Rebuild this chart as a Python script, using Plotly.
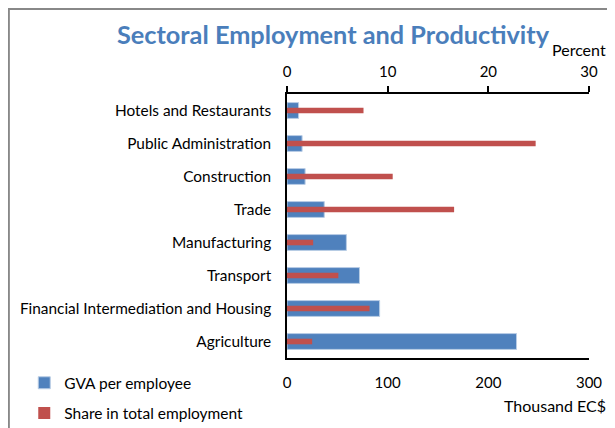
import plotly.graph_objects as go

# sectors, listed top to bottom as in the chart
sectors = ['Hotels and Restaurants', 'Public Administration', 'Construction', 'Trade',
           'Manufacturing', 'Transport', 'Financial Intermediation and Housing', 'Agriculture']
# GVA per employee, thousand EC$ (bottom axis)
gva_per_employee = [11.5, 15, 18, 37, 59, 72, 92, 228]
# share in total employment, percent (top axis)
employment_share = [7.6, 24.7, 10.5, 16.6, 2.6, 5.1, 8.2, 2.5]

blue = '#4F81BD'
red = '#C0504D'
font_family = 'Lato'

# the page body adds an 8px margin, so the figure is 8px smaller each way
W, H = 607, 420

fig = go.Figure()
fig.add_trace(go.Bar(
    y=sectors, x=gva_per_employee, orientation='h', name='GVA per employee',
    marker=dict(color=blue, line=dict(color='#B9CDE5', width=1)),
    width=0.48, xaxis='x', yaxis='y', legendgroup='a'))
fig.add_trace(go.Bar(
    y=sectors, x=employment_share, orientation='h', name='Share in total employment',
    marker=dict(color=red, line=dict(width=0)),
    width=0.17, xaxis='x2', yaxis='y', legendgroup='b'))

fig.update_layout(
    width=W, height=H,
    margin=dict(l=279, r=26, t=86, b=70, autoexpand=False),
    paper_bgcolor='white', plot_bgcolor='white',
    font=dict(family=font_family, size=15, color='black'),
    barmode='overlay',
    title=dict(text='<b>Sectoral Employment and Productivity</b>',
               font=dict(family=font_family, size=25.3, color='#4A7EBB'),
               xref='container', x=325 / W, xanchor='center',
               yref='container', y=1 - 27 / H, yanchor='middle'),
    xaxis=dict(range=[0, 300], dtick=100, showline=True, linecolor='black', linewidth=1.5,
               showgrid=False, zeroline=False, ticks='', ticklabelstandoff=10,
               tickfont=dict(size=15)),
    xaxis2=dict(range=[0, 30], dtick=10, overlaying='x', side='top', showline=True,
                linecolor='black', linewidth=1.5, showgrid=False, zeroline=False,
                ticks='outside', ticklen=6, tickcolor='black', tickwidth=1.5,
                ticklabelstandoff=3, tickfont=dict(size=15)),
    yaxis=dict(autorange='reversed', showline=True, linecolor='black', linewidth=1.5,
               showgrid=False, ticks='', ticklabelstandoff=11, tickfont=dict(size=15.4)),
    legend=dict(x=-0.87, y=-0.031, xanchor='left', yanchor='top', traceorder='grouped',
                tracegroupgap=7, font=dict(size=15.5), bgcolor='rgba(0,0,0,0)'),
    showlegend=True,
)

fig.add_annotation(text='Percent', xref='paper', yref='paper', x=1.063, y=1.17,
                   xanchor='right', yanchor='middle', showarrow=False, font=dict(size=16))
fig.add_annotation(text='Thousand EC$', xref='paper', yref='paper', x=1.063, y=-0.18,
                   xanchor='right', yanchor='middle', showarrow=False, font=dict(size=16))

# outer chart frame (cropped on the right and bottom in the original)
fig.add_shape(type='rect', xref='paper', yref='paper', x0=-0.921, x1=1.3, y0=-0.5, y1=1.322,
              line=dict(color='#888888', width=2), fillcolor='rgba(0,0,0,0)', layer='below')

fig.write_html('out.html')
